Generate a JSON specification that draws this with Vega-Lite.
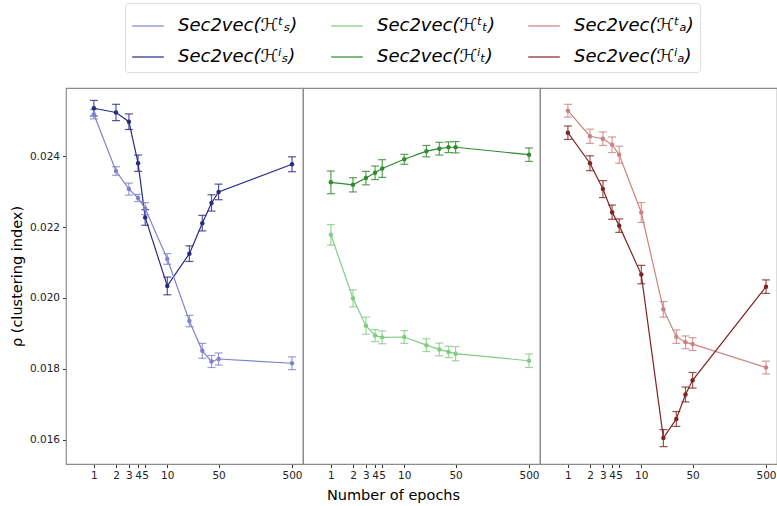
{
  "$schema": "https://vega.github.io/schema/vega-lite/v6.json",
  "padding": {"left": 9, "top": 2, "right": 0, "bottom": 3},
  "background": "white",
  "bounds": "flush",
  "data": {"values": [
    {"panel": "S", "series": "Sec2vec(ℋⁱₛ)", "epochs": 1, "rho": 0.02535, "err": 0.00022},
    {"panel": "S", "series": "Sec2vec(ℋⁱₛ)", "epochs": 2, "rho": 0.02523, "err": 0.00023},
    {"panel": "S", "series": "Sec2vec(ℋⁱₛ)", "epochs": 3, "rho": 0.02497, "err": 0.00022},
    {"panel": "S", "series": "Sec2vec(ℋⁱₛ)", "epochs": 4, "rho": 0.0238, "err": 0.00023},
    {"panel": "S", "series": "Sec2vec(ℋⁱₛ)", "epochs": 5, "rho": 0.02227, "err": 0.00022},
    {"panel": "S", "series": "Sec2vec(ℋⁱₛ)", "epochs": 10, "rho": 0.02034, "err": 0.00025},
    {"panel": "S", "series": "Sec2vec(ℋⁱₛ)", "epochs": 20, "rho": 0.02125, "err": 0.00022},
    {"panel": "S", "series": "Sec2vec(ℋⁱₛ)", "epochs": 30, "rho": 0.02211, "err": 0.00022},
    {"panel": "S", "series": "Sec2vec(ℋⁱₛ)", "epochs": 40, "rho": 0.02268, "err": 0.00023},
    {"panel": "S", "series": "Sec2vec(ℋⁱₛ)", "epochs": 50, "rho": 0.02299, "err": 0.00022},
    {"panel": "S", "series": "Sec2vec(ℋⁱₛ)", "epochs": 500, "rho": 0.02377, "err": 0.00021},
    {"panel": "S", "series": "Sec2vec(ℋᵗₛ)", "epochs": 1, "rho": 0.02518, "err": 0.00013},
    {"panel": "S", "series": "Sec2vec(ℋᵗₛ)", "epochs": 2, "rho": 0.02358, "err": 0.00012},
    {"panel": "S", "series": "Sec2vec(ℋᵗₛ)", "epochs": 3, "rho": 0.02307, "err": 0.00017},
    {"panel": "S", "series": "Sec2vec(ℋᵗₛ)", "epochs": 4, "rho": 0.02282, "err": 0.0001},
    {"panel": "S", "series": "Sec2vec(ℋᵗₛ)", "epochs": 5, "rho": 0.02252, "err": 0.00017},
    {"panel": "S", "series": "Sec2vec(ℋᵗₛ)", "epochs": 10, "rho": 0.0211, "err": 0.00015},
    {"panel": "S", "series": "Sec2vec(ℋᵗₛ)", "epochs": 20, "rho": 0.01935, "err": 0.00016},
    {"panel": "S", "series": "Sec2vec(ℋᵗₛ)", "epochs": 30, "rho": 0.01851, "err": 0.00021},
    {"panel": "S", "series": "Sec2vec(ℋᵗₛ)", "epochs": 40, "rho": 0.01821, "err": 0.00017},
    {"panel": "S", "series": "Sec2vec(ℋᵗₛ)", "epochs": 50, "rho": 0.01828, "err": 0.00017},
    {"panel": "S", "series": "Sec2vec(ℋᵗₛ)", "epochs": 500, "rho": 0.01816, "err": 0.00018},
    {"panel": "T", "series": "Sec2vec(ℋⁱₜ)", "epochs": 1, "rho": 0.02326, "err": 0.00032},
    {"panel": "T", "series": "Sec2vec(ℋⁱₜ)", "epochs": 2, "rho": 0.02319, "err": 0.0002},
    {"panel": "T", "series": "Sec2vec(ℋⁱₜ)", "epochs": 3, "rho": 0.02338, "err": 0.00019},
    {"panel": "T", "series": "Sec2vec(ℋⁱₜ)", "epochs": 4, "rho": 0.02353, "err": 0.00019},
    {"panel": "T", "series": "Sec2vec(ℋⁱₜ)", "epochs": 5, "rho": 0.02365, "err": 0.00025},
    {"panel": "T", "series": "Sec2vec(ℋⁱₜ)", "epochs": 10, "rho": 0.02391, "err": 0.00014},
    {"panel": "T", "series": "Sec2vec(ℋⁱₜ)", "epochs": 20, "rho": 0.02414, "err": 0.00016},
    {"panel": "T", "series": "Sec2vec(ℋⁱₜ)", "epochs": 30, "rho": 0.02421, "err": 0.00018},
    {"panel": "T", "series": "Sec2vec(ℋⁱₜ)", "epochs": 40, "rho": 0.02425, "err": 0.00015},
    {"panel": "T", "series": "Sec2vec(ℋⁱₜ)", "epochs": 50, "rho": 0.02425, "err": 0.00016},
    {"panel": "T", "series": "Sec2vec(ℋⁱₜ)", "epochs": 500, "rho": 0.02404, "err": 0.00019},
    {"panel": "T", "series": "Sec2vec(ℋᵗₜ)", "epochs": 1, "rho": 0.02178, "err": 0.00029},
    {"panel": "T", "series": "Sec2vec(ℋᵗₜ)", "epochs": 2, "rho": 0.01999, "err": 0.00024},
    {"panel": "T", "series": "Sec2vec(ℋᵗₜ)", "epochs": 3, "rho": 0.01922, "err": 0.00024},
    {"panel": "T", "series": "Sec2vec(ℋᵗₜ)", "epochs": 4, "rho": 0.01894, "err": 0.00017},
    {"panel": "T", "series": "Sec2vec(ℋᵗₜ)", "epochs": 5, "rho": 0.01889, "err": 0.00018},
    {"panel": "T", "series": "Sec2vec(ℋᵗₜ)", "epochs": 10, "rho": 0.0189, "err": 0.00018},
    {"panel": "T", "series": "Sec2vec(ℋᵗₜ)", "epochs": 20, "rho": 0.01867, "err": 0.00018},
    {"panel": "T", "series": "Sec2vec(ℋᵗₜ)", "epochs": 30, "rho": 0.01855, "err": 0.00018},
    {"panel": "T", "series": "Sec2vec(ℋᵗₜ)", "epochs": 40, "rho": 0.01848, "err": 0.00016},
    {"panel": "T", "series": "Sec2vec(ℋᵗₜ)", "epochs": 50, "rho": 0.01843, "err": 0.0002},
    {"panel": "T", "series": "Sec2vec(ℋᵗₜ)", "epochs": 500, "rho": 0.01823, "err": 0.00019},
    {"panel": "A", "series": "Sec2vec(ℋᵗₐ)", "epochs": 1, "rho": 0.02528, "err": 0.00018},
    {"panel": "A", "series": "Sec2vec(ℋᵗₐ)", "epochs": 2, "rho": 0.02456, "err": 0.0002},
    {"panel": "A", "series": "Sec2vec(ℋᵗₐ)", "epochs": 3, "rho": 0.02449, "err": 0.00019},
    {"panel": "A", "series": "Sec2vec(ℋᵗₐ)", "epochs": 4, "rho": 0.02432, "err": 0.00022},
    {"panel": "A", "series": "Sec2vec(ℋᵗₐ)", "epochs": 5, "rho": 0.02404, "err": 0.00024},
    {"panel": "A", "series": "Sec2vec(ℋᵗₐ)", "epochs": 10, "rho": 0.02241, "err": 0.00028},
    {"panel": "A", "series": "Sec2vec(ℋᵗₐ)", "epochs": 20, "rho": 0.01968, "err": 0.00022},
    {"panel": "A", "series": "Sec2vec(ℋᵗₐ)", "epochs": 30, "rho": 0.01891, "err": 0.00019},
    {"panel": "A", "series": "Sec2vec(ℋᵗₐ)", "epochs": 40, "rho": 0.01875, "err": 0.00018},
    {"panel": "A", "series": "Sec2vec(ℋᵗₐ)", "epochs": 50, "rho": 0.0187, "err": 0.00018},
    {"panel": "A", "series": "Sec2vec(ℋᵗₐ)", "epochs": 500, "rho": 0.01804, "err": 0.00018},
    {"panel": "A", "series": "Sec2vec(ℋⁱₐ)", "epochs": 1, "rho": 0.02466, "err": 0.00019},
    {"panel": "A", "series": "Sec2vec(ℋⁱₐ)", "epochs": 2, "rho": 0.0238, "err": 0.00021},
    {"panel": "A", "series": "Sec2vec(ℋⁱₐ)", "epochs": 3, "rho": 0.02307, "err": 0.00024},
    {"panel": "A", "series": "Sec2vec(ℋⁱₐ)", "epochs": 4, "rho": 0.02242, "err": 0.0002},
    {"panel": "A", "series": "Sec2vec(ℋⁱₐ)", "epochs": 5, "rho": 0.02204, "err": 0.00019},
    {"panel": "A", "series": "Sec2vec(ℋⁱₐ)", "epochs": 10, "rho": 0.02066, "err": 0.00026},
    {"panel": "A", "series": "Sec2vec(ℋⁱₐ)", "epochs": 20, "rho": 0.01605, "err": 0.00024},
    {"panel": "A", "series": "Sec2vec(ℋⁱₐ)", "epochs": 30, "rho": 0.01659, "err": 0.00021},
    {"panel": "A", "series": "Sec2vec(ℋⁱₐ)", "epochs": 40, "rho": 0.01728, "err": 0.00021},
    {"panel": "A", "series": "Sec2vec(ℋⁱₐ)", "epochs": 50, "rho": 0.01768, "err": 0.00022},
    {"panel": "A", "series": "Sec2vec(ℋⁱₐ)", "epochs": 500, "rho": 0.02032, "err": 0.00019}
  ]},
  "facet": {"column": {"field": "panel", "type": "nominal", "sort": ["S", "T", "A"], "header": null}},
  "spacing": 0,
  "title": {"text": "Number of epochs", "orient": "bottom", "anchor": "middle", "fontSize": 14.5, "fontWeight": "normal", "font": "DejaVu Sans", "color": "#000000", "offset": 8},
  "spec": {
    "width": 237,
    "height": 376,
    "encoding": {
      "x": {"field": "epochs", "type": "quantitative",
        "scale": {"type": "log", "domain": [0.417, 706], "nice": false},
        "axis": {"values": [1, 2, 3, 4, 5, 10, 50, 500], "format": "d", "title": null, "grid": false, "labelOverlap": false, "labelFlush": false}},
      "y": {"field": "rho", "type": "quantitative",
        "scale": {"domain": [0.01532, 0.02592], "nice": false, "zero": false},
        "axis": {"values": [0.016, 0.018, 0.02, 0.022, 0.024], "format": ".3f", "title": "ρ (clustering index)", "grid": false, "titlePadding": 5}},
      "color": {"field": "series", "type": "nominal",
        "scale": {
          "domain": ["Sec2vec(ℋᵗₛ)", "Sec2vec(ℋⁱₛ)", "Sec2vec(ℋᵗₜ)", "Sec2vec(ℋⁱₜ)", "Sec2vec(ℋᵗₐ)", "Sec2vec(ℋⁱₐ)"],
          "range": ["#8282cc", "#2a2a82", "#82cc82", "#2e8b2e", "#cc8282", "#7d2525"]},
        "legend": {"title": null, "orient": "none", "legendX": 59, "legendY": -85}}
    },
    "layer": [
      {"mark": {"type": "line", "strokeWidth": 1.2}},
      {"mark": {"type": "errorbar", "ticks": {"size": 8}, "opacity": 0.8, "thickness": 1.2}, "encoding": {"yError": {"field": "err"}}},
      {"mark": {"type": "point", "filled": true, "size": 20, "opacity": 1}}
    ]
  },
  "config": {
    "font": "DejaVu Sans",
    "view": {"stroke": "#8c8c8c", "strokeWidth": 1.2},
    "axis": {"domain": false, "tickSize": 3.5, "tickColor": "#333333", "labelColor": "#222222", "labelFontSize": 10.5, "labelFont": "DejaVu Sans", "labelPadding": 3, "titleFont": "DejaVu Sans", "titleFontSize": 14.5, "titleFontWeight": "normal", "titleColor": "#000000"},
    "legend": {"columns": 3, "symbolType": "stroke", "symbolSize": 1000, "symbolStrokeWidth": 1.5, "labelFontSize": 18, "labelFont": "DejaVu Sans", "labelFontStyle": "italic", "labelColor": "#000000", "strokeColor": "#dddddd", "padding": 6, "cornerRadius": 3, "rowPadding": 5, "columnPadding": 30, "labelOffset": 13, "labelLimit": 300}
  }
}
